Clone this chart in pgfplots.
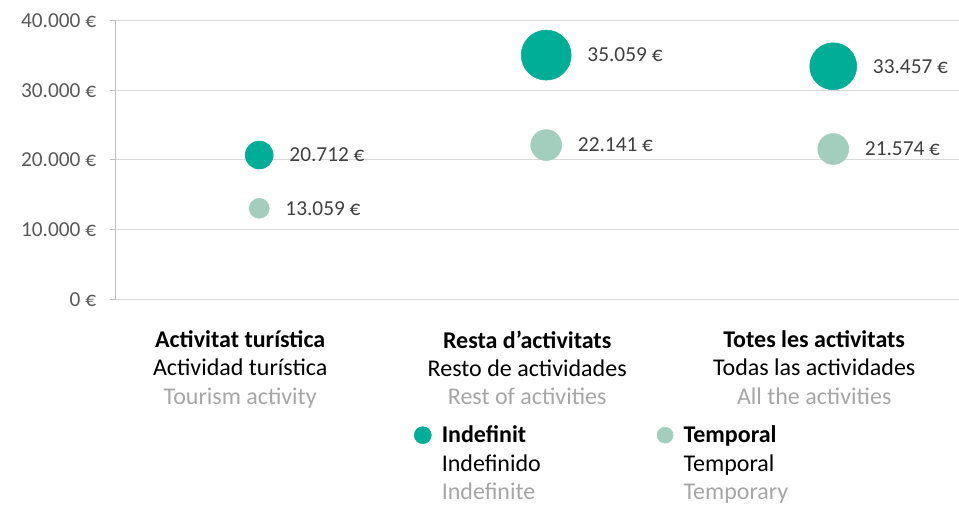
\documentclass[border=0pt]{standalone}
\usepackage{fontspec}
\setmainfont{Carlito}
\usepackage{pgfplots}
\pgfplotsset{compat=1.18}
\definecolor{dark}{RGB}{0,174,152}
\definecolor{light}{RGB}{163,206,190}
\definecolor{gridc}{RGB}{217,217,217}
\definecolor{axc}{RGB}{191,191,191}
\definecolor{tickc}{RGB}{89,89,89}
\definecolor{labc}{RGB}{64,64,64}
\definecolor{catg}{RGB}{166,166,166}
\pgfplotsset{
  bub/.style 2 args={only marks, mark=*, mark size=#2, draw=#1, fill=#1, forget plot,
    nodes near coords={\pgfmathprintnumber[fixed,precision=0,1000 sep={.}]{\pgfplotspointmeta}~€},
    every node near coord/.append style={anchor=west, inner sep=0pt, xshift=#2+12pt,
      text=labc, font=\fontsize{16}{19}\selectfont}},
}

\begin{document}
\begin{tikzpicture}[x=1pt,y=1pt]
\useasboundingbox (0,0) rectangle (719.25,378.75);
\begin{axis}[
 at={(86.775pt,154.275pt)}, anchor=south west,
 scale only axis, width=632.475pt, height=208.95pt,
 xmin=0, xmax=2.9383, ymin=0, ymax=40000,
 clip=false,
 axis lines=left,
 axis line style={-},
 x axis line style={draw=gridc, line width=0.75pt},
 y axis line style={draw=axc, line width=1.1pt},
 ymajorgrids, grid style={draw=gridc, line width=0.75pt},
 ytick={0,10000,20000,30000,40000},
 tick align=outside, major tick length=4.5pt,
 ytick style={draw=axc, line width=0.75pt},
 xtick style={draw=none},
 scaled y ticks=false,
 /pgf/number format/assume math mode=true,
 yticklabel={\pgfmathprintnumber[fixed,precision=0,1000 sep={.}]{\tick}~€},
 yticklabel style={text=tickc, font=\fontsize{16}{19}\selectfont, inner sep=0pt, xshift=-10pt},
 xtick={0.5,1.5,2.5},
 xticklabels={
  {\textbf{Activitat turística}\\Actividad turística\\\textcolor{catg}{Tourism activity}},
  {\textbf{Resta d’activitats}\\Resto de actividades\\\textcolor{catg}{Rest of activities}},
  {\textbf{Totes les activitats}\\Todas las actividades\\\textcolor{catg}{All the activities}}},
 xticklabel style={align=center, font=\fontsize{18}{21.3}\selectfont, inner sep=0pt, yshift=-18.8pt, xshift=-14.25pt, text=black},
 legend columns=2,
 legend cell align=left,
 legend style={at={(0.354,-0.4437)}, anchor=north west, draw=none, fill=none,
   inner sep=0pt, outer sep=0pt, cells={anchor=base west},
   nodes={inner sep=0pt},
   font=\fontsize{18}{21.3}\selectfont,
   /tikz/every odd column/.style={column sep=7.85pt}},
 legend image code/.code={\draw[#1] plot coordinates {(0pt,5.7pt)};},
]
% Indefinit
\addplot[bub={dark}{10.5pt}] coordinates {(0.5,20712)};
\addplot[bub={dark}{18.75pt}] coordinates {(1.5,35059)};
\addplot[bub={dark}{17.6pt}] coordinates {(2.5,33457)};
% Temporal
\addplot[bub={light}{7.5pt}] coordinates {(0.5,13059)};
\addplot[bub={light}{11.6pt}] coordinates {(1.5,22141)};
\addplot[bub={light}{11.6pt}] coordinates {(2.5,21574)};
\addlegendimage{only marks, mark=*, mark size=6.4pt, draw=dark, fill=dark}
\addlegendentry{\makebox[161.5pt][l]{\begin{tabular}[t]{@{}l@{}}\textbf{Indefinit}\\Indefinido\\\textcolor{catg}{Indefinite}\end{tabular}}}
\addlegendimage{only marks, mark=*, mark size=6pt, draw=light, fill=light}
\addlegendentry{\begin{tabular}[t]{@{}l@{}}\textbf{Temporal}\\Temporal\\\textcolor{catg}{Temporary}\end{tabular}}
\end{axis}
\end{tikzpicture}
\end{document}
